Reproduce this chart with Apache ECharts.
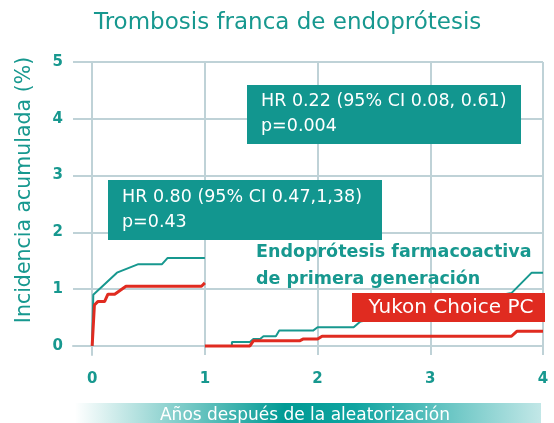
<!DOCTYPE html>
<html>
<head>
<meta charset="utf-8">
<script src="https://cdn.jsdelivr.net/npm/echarts@6/dist/echarts.min.js"></script>
<style>
  html, body { margin: 0; padding: 0; background: #fff; }
  #chart { width: 554px; height: 423px; }
</style>
</head>
<body>
<div id="chart"></div>
<script>
// ejes
const xTicks = [0, 1, 2, 3, 4]
const yTicks = [0, 1, 2, 3, 4, 5]
const xMin = -0.17
const xMax = 4
const yMin = -0.16
const yMax = 5

// primer año (landmark)
const tealYear1 = [[0, 0], [0.01, 0.9], [0.22, 1.29], [0.41, 1.44], [0.62, 1.44], [0.67, 1.55], [1.0, 1.55]]
const redYear1 = [[0, 0], [0.02, 0.72], [0.05, 0.78], [0.11, 0.78], [0.14, 0.91], [0.2, 0.91], [0.3, 1.05], [0.97, 1.05], [1.0, 1.11]]
// de 1 a 4 años
const tealLater = [[1.0, 0], [1.24, 0], [1.24, 0.07], [1.40, 0.07], [1.43, 0.12], [1.49, 0.12], [1.52, 0.17], [1.63, 0.17],
  [1.66, 0.27], [1.96, 0.27], [2.0, 0.33], [2.32, 0.33], [2.38, 0.43], [3.72, 0.93], [3.9, 1.29], [4.0, 1.29]]
const redLater = [[1.0, 0], [1.40, 0], [1.43, 0.09], [1.84, 0.09], [1.87, 0.12], [2.0, 0.12], [2.04, 0.17], [3.72, 0.17],
  [3.77, 0.26], [4.0, 0.26]]

const teal = '#17988f'
const red = '#e02b20'
const gridColor = '#bfd2d7'
const font = 'DejaVu Sans'

const myChart = echarts.init(document.getElementById('chart'))

// lineas de la rejilla
const gridLines = [
  ...yTicks.map(v => [{ coord: [xMin, v] }, { coord: [xMax, v] }]),
  ...xTicks.map(v => [{ coord: [v, yMin] }, { coord: [v, yMax] }])
]

myChart.setOption({
  animation: false,
  title: {
    text: 'Trombosis franca de endoprótesis',
    left: 89,
    top: 7,
    textStyle: { color: teal, fontSize: 23, fontWeight: 'normal', fontFamily: font }
  },
  grid: { left: 73, right: 11, top: 62, bottom: 68 },
  xAxis: {
    type: 'value',
    min: xMin,
    max: xMax,
    axisLine: { show: true, lineStyle: { color: gridColor, width: 2 } },
    axisTick: { show: true, customValues: xTicks, length: 6, lineStyle: { color: gridColor, width: 2 } },
    axisLabel: {
      customValues: xTicks,
      color: teal,
      fontSize: 15,
      fontWeight: 'bold',
      fontFamily: font,
      margin: 17
    },
    splitLine: { show: false }
  },
  yAxis: {
    type: 'value',
    min: yMin,
    max: yMax,
    axisLine: { show: true, lineStyle: { color: gridColor, width: 2 } },
    axisTick: { show: true, customValues: yTicks, length: 6, lineStyle: { color: gridColor, width: 2 } },
    axisLabel: {
      customValues: yTicks,
      color: teal,
      fontSize: 15,
      fontWeight: 'bold',
      fontFamily: font,
      margin: 10
    },
    splitLine: { show: false }
  },
  series: [
    {
      type: 'line',
      data: [],
      silent: true,
      z: 1,
      markLine: {
        silent: true,
        z: 1,
        symbol: 'none',
        label: { show: false },
        lineStyle: { color: gridColor, width: 2, type: 'solid' },
        data: gridLines
      }
    },
    {
      name: 'teal1',
      type: 'line',
      data: tealYear1,
      showSymbol: false,
      lineStyle: { color: teal, width: 2 },
      z: 10
    },
    {
      name: 'teal2',
      type: 'line',
      data: tealLater,
      showSymbol: false,
      lineStyle: { color: teal, width: 2 },
      z: 10
    },
    {
      name: 'red1',
      type: 'line',
      data: redYear1,
      showSymbol: false,
      lineStyle: { color: red, width: 3 },
      z: 11
    },
    {
      name: 'red2',
      type: 'line',
      data: redLater,
      showSymbol: false,
      lineStyle: { color: red, width: 3 },
      z: 11
    }
  ],
  graphic: [
    {
      type: 'text', z: 101, x: 25, y: 190, rotation: Math.PI / 2,
      style: { text: 'Incidencia acumulada (%)', fill: teal, font: '20.5px ' + font, align: 'center', verticalAlign: 'middle' }
    },
    {
      type: 'rect', z: 100,
      shape: { x: 247, y: 85, width: 274, height: 59 },
      style: { fill: '#12968f' }
    },
    {
      type: 'text', z: 101, left: 261, top: 89,
      style: { text: 'HR 0.22 (95% CI 0.08, 0.61)\np=0.004', fill: '#fff', font: '17.5px ' + font, lineHeight: 25 }
    },
    {
      type: 'rect', z: 100,
      shape: { x: 108, y: 180, width: 274, height: 60 },
      style: { fill: '#12968f' }
    },
    {
      type: 'text', z: 101, left: 122, top: 185,
      style: { text: 'HR 0.80 (95% CI 0.47,1,38)\np=0.43', fill: '#fff', font: '17.5px ' + font, lineHeight: 25 }
    },
    {
      type: 'text', z: 101, left: 256, top: 239,
      style: { text: 'Endoprótesis farmacoactiva\nde primera generación', fill: teal, font: 'bold 17.5px ' + font, lineHeight: 27 }
    },
    {
      type: 'rect', z: 100,
      shape: { x: 352, y: 293, width: 193, height: 29 },
      style: { fill: red }
    },
    {
      type: 'text', z: 101, x: 451, y: 308,
      style: { text: 'Yukon Choice PC', fill: '#fff', font: '20px ' + font, align: 'center', verticalAlign: 'middle' }
    },
    {
      type: 'rect', z: 100,
      shape: { x: 75, y: 403, width: 466, height: 20 },
      style: {
        fill: new echarts.graphic.LinearGradient(0, 0, 1, 0, [
          { offset: 0, color: 'rgba(255,255,255,1)' },
          { offset: 0.45, color: '#009a94' },
          { offset: 0.6, color: '#0fa4a0' },
          { offset: 1, color: '#c2e7e7' }
        ])
      }
    },
    {
      type: 'text', z: 101, x: 305, y: 416,
      style: { text: 'Años después de la aleatorización', fill: '#fff', font: '17px ' + font, align: 'center', verticalAlign: 'middle' }
    }
  ]
})
</script>
</body>
</html>
